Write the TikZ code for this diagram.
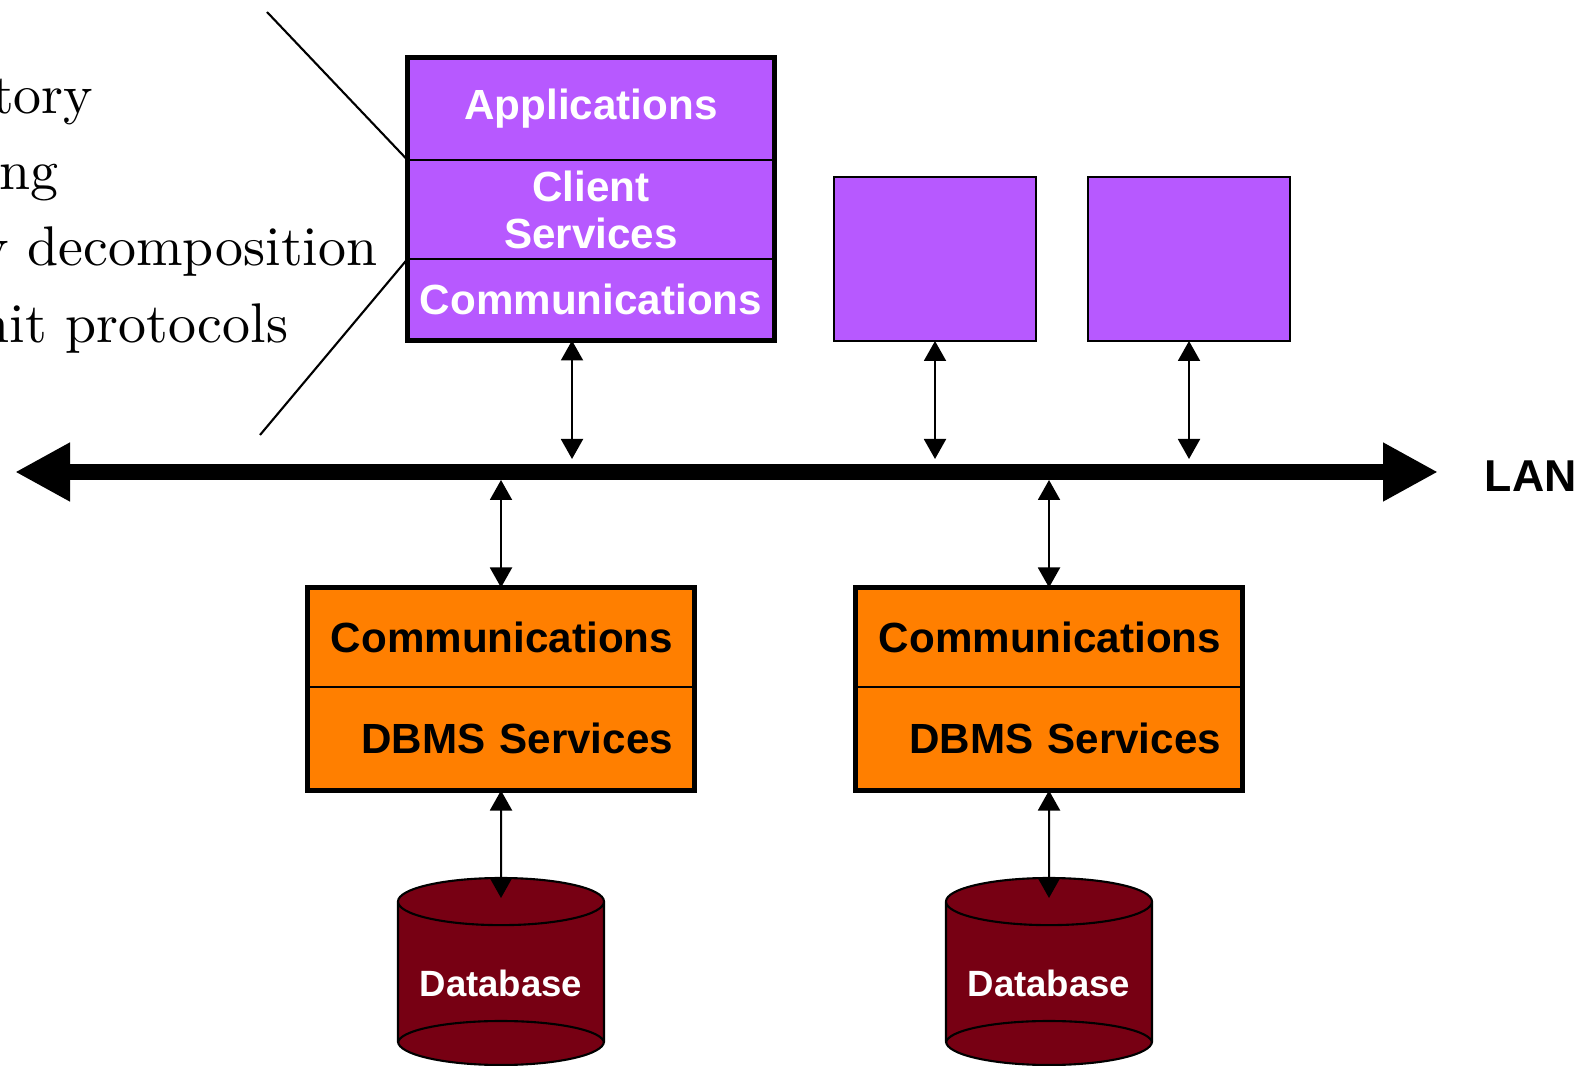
\documentclass[tikz,border=0pt]{standalone}
\usepackage{fontspec}
\setmainfont{Latin Modern Roman}
\newfontfamily\bulletfont{lmroman10-regular.otf}
\newfontfamily\arialfont{Liberation Sans}
\usetikzlibrary{shapes.geometric, arrows.meta, positioning}
\definecolor{clientPurple}{HTML}{B759FF}
\definecolor{serverOrange}{HTML}{FF7F00}
\definecolor{dbRed}{HTML}{770013}
\tikzset{
    layer/.style={rectangle, draw=black, line width=0.6pt, inner sep=0pt, outer sep=0pt, align=center, font=\arialfont\bfseries\fontsize{12}{13.4}\selectfont},
    clientlayer/.style={layer, fill=clientPurple, text=white, minimum width=3.67cm},
    serverlayer/.style={layer, fill=serverOrange, text=black, minimum width=3.87cm, text width=3.44cm, align=right},
    clientbox/.style={rectangle, draw=black, line width=0.75pt, fill=clientPurple, minimum width=2.02cm, minimum height=1.64cm, outer sep=0pt},
    frame/.style={draw=black, line width=1.4pt},
    dbstore/.style={cylinder, shape border rotate=90, aspect=0.29, draw=black, fill=dbRed, line width=0.6pt, minimum width=2.06cm, minimum height=1.87cm, inner sep=0pt, outer sep=0pt, anchor=shape center, text=white, font=\arialfont\bfseries\fontsize{10.4}{12}\selectfont},
    link/.style={{Triangle[length=0.2cm,width=0.22cm]}-{Triangle[length=0.2cm,width=0.22cm]}, line width=0.57pt},
    lan/.style={{Triangle[length=0.55cm,width=0.55cm]}-{Triangle[length=0.55cm,width=0.55cm]}, line width=0.16cm},
    pointer/.style={line width=0.6pt},
    bullet/.style={anchor=base east, inner sep=0pt, font=\bulletfont\fontsize{15.9}{18}\selectfont},
}

\begin{document}
\begin{tikzpicture}[node distance=0pt]
    \useasboundingbox (0,0) rectangle (15.94,-10.66);

    % Text on the left
    \node[bullet] (t1) at (0.94,-1.14) {tory};
    \node[bullet] (t2) at (0.59,-1.90) {ng};
    \node[bullet] (t3) at (3.78,-2.66) {y decomposition};
    \node[bullet] (t4) at (2.89,-3.43) {nit protocols};

    % Client stack
    \node[clientlayer, minimum height=1.025cm, anchor=north] (c1app) at (5.91,-0.575) {Applications};
    \node[clientlayer, minimum height=0.99cm, below=of c1app] (c1serv) {Client\\Services};
    \node[clientlayer, minimum height=0.815cm, below=of c1serv] (c1comm) {Communications};
    \draw[frame] (c1app.north west) rectangle (c1comm.south east);

    % Other clients
    \node[clientbox] (client2) at (9.35,-2.59) {};
    \node[clientbox] (client3) at (11.89,-2.59) {};

    % Servers
    \node[serverlayer, minimum height=0.995cm, anchor=north] (s1comm) at (5.01,-5.875) {Communications};
    \node[serverlayer, minimum height=1.035cm, below=of s1comm] (s1dbms) {DBMS Services};
    \draw[frame] (s1comm.north west) rectangle (s1dbms.south east);

    \node[serverlayer, minimum height=0.995cm, anchor=north] (s2comm) at (10.49,-5.875) {Communications};
    \node[serverlayer, minimum height=1.035cm, below=of s2comm] (s2dbms) {DBMS Services};
    \draw[frame] (s2comm.north west) rectangle (s2dbms.south east);

    % Databases
    \node[dbstore] (db1) at (5.01,-9.715) {Database};
    \node[dbstore] (db2) at (10.49,-9.715) {Database};
    \draw[pointer] ([xshift=-1.03cm,yshift=0.22cm]db1.south) arc[start angle=180, end angle=0, x radius=1.03cm, y radius=0.22cm];
    \draw[pointer] ([xshift=-1.03cm,yshift=0.22cm]db2.south) arc[start angle=180, end angle=0, x radius=1.03cm, y radius=0.22cm];

    % LAN
    \coordinate (lanW) at (0.15,-4.72);
    \coordinate (lanE) at (14.38,-4.72);
    \coordinate (lanTop) at (0,-4.59);
    \coordinate (lanBot) at (0,-4.80);
    \draw[lan] (lanW) -- (lanE);
    \node[anchor=base west, inner sep=0pt, font=\arialfont\bfseries\fontsize{12.7}{14}\selectfont] (lanlabel) at (14.84,-4.92) {LAN};

    % Links
    \draw[link] ([xshift=-0.19cm]c1comm.south) -- ([xshift=-0.19cm]c1comm.south |- lanTop);
    \draw[link] (client2.south) -- (client2.south |- lanTop);
    \draw[link] (client3.south) -- (client3.south |- lanTop);
    \draw[link] (s1comm.north |- lanBot) -- (s1comm.north);
    \draw[link] (s2comm.north |- lanBot) -- (s2comm.north);
    \draw[link] (s1dbms.south) -- ([yshift=-0.2cm]db1.north);
    \draw[link] (s2dbms.south) -- ([yshift=-0.2cm]db2.north);

    % Pointers to the client stack
    \coordinate (pt1) at (2.67,-0.12);
    \coordinate (pt2) at (2.60,-4.35);
    \draw[pointer] (pt1) -- (c1serv.north west);
    \draw[pointer] (c1serv.south west) -- (pt2);
\end{tikzpicture}
\end{document}
